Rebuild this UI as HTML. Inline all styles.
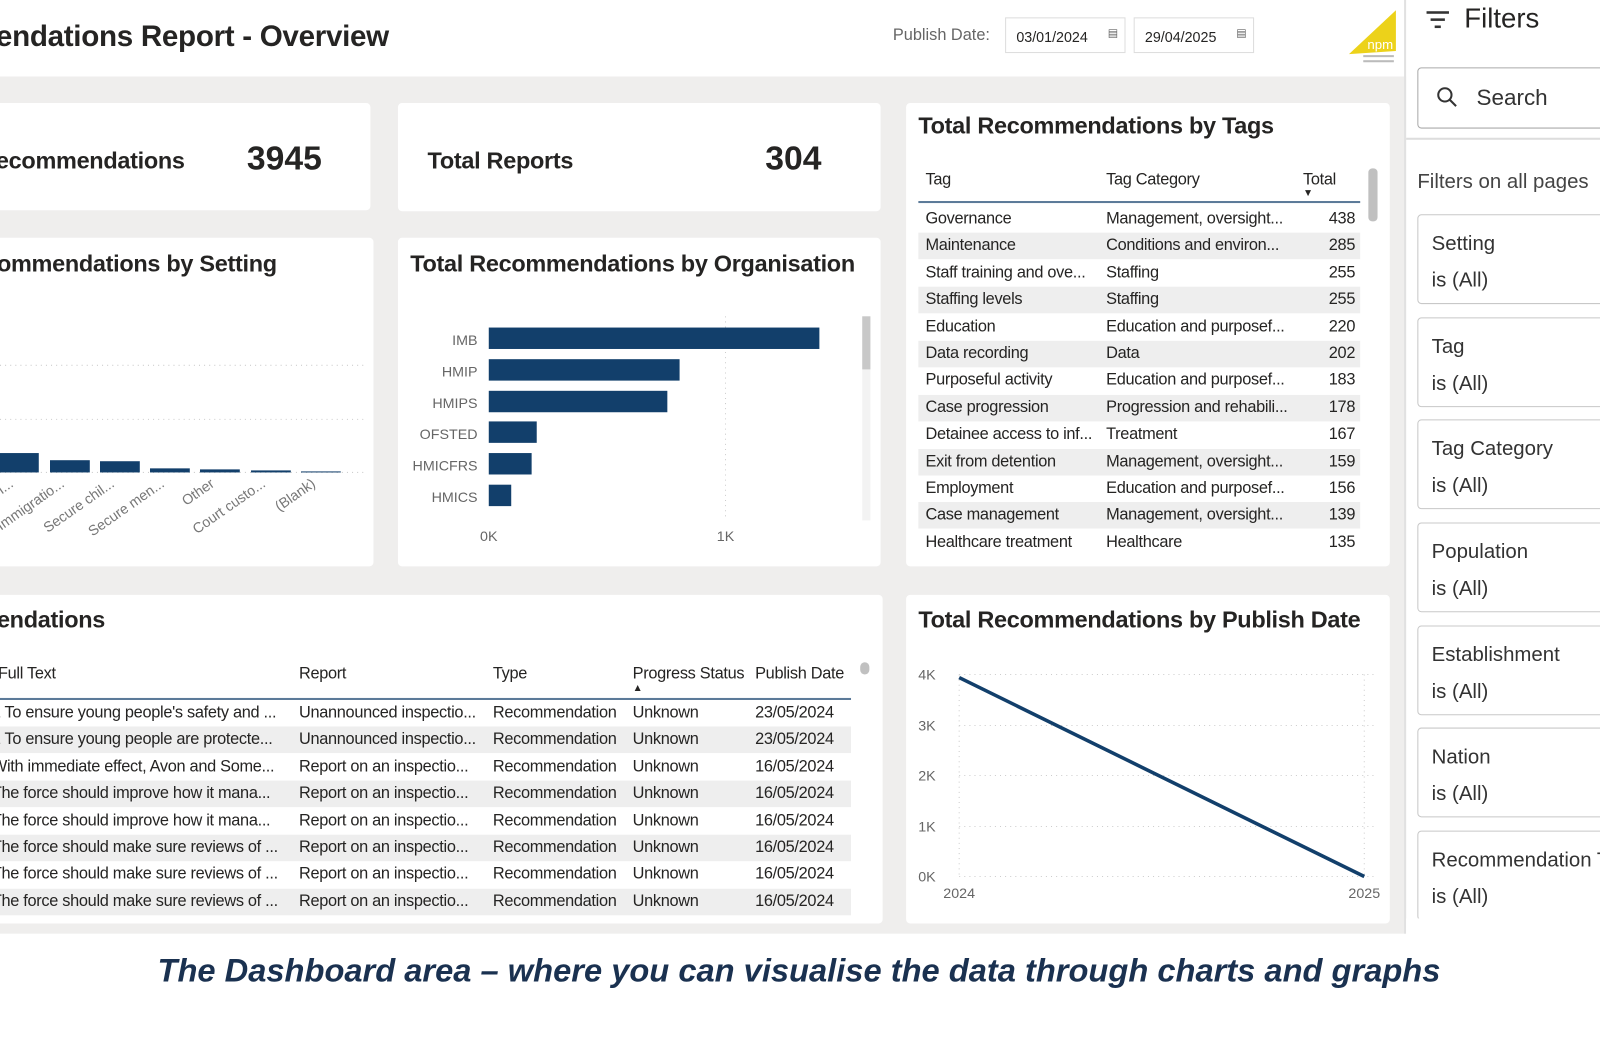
<!DOCTYPE html>
<html><head><meta charset="utf-8"><style>
*{margin:0;padding:0;box-sizing:border-box}
body{width:1600px;height:1036px;position:relative;overflow:hidden;background:#fff;font-family:"Liberation Sans",sans-serif;color:#252423}
#w{position:absolute;left:0;top:0;width:1568px;height:1016px;transform:scale(1.0204);transform-origin:0 0}
.a{position:absolute;white-space:nowrap}
.card{position:absolute;background:#fff;border-radius:4px}
.t{font-weight:bold;font-size:23px;color:#252423;letter-spacing:-0.3px}
.c{font-size:16px;letter-spacing:-0.3px}
.row{position:absolute;height:26px;font-size:16px;letter-spacing:-0.3px}
.g{background:#eeeeee}
.fc{position:absolute;left:1389px;width:230px;height:88px;border:1px solid #c8c8c8;border-radius:4px;background:#fff}
.fc div{position:absolute;left:13px;font-size:20px;color:#333}
</style></head><body><div id="w">
<div class="a" style="left:0;top:75px;width:1378px;height:840px;background:#efeeed"></div>
<div class="a t" style="left:-4px;top:20px;font-size:29px">endations Report - Overview</div>
<div class="a" style="left:875px;top:26px;font-size:16px;color:#666">Publish Date:</div>
<div class="a" style="left:985px;top:17px;width:118px;height:35px;border:1px solid #ddd;font-size:14px;padding:10px 0 0 10px">03/01/2024 <span style="position:absolute;right:6px;top:8px;font-size:11px;color:#666">▤</span></div>
<div class="a" style="left:1111px;top:17px;width:118px;height:35px;border:1px solid #ddd;font-size:14px;padding:10px 0 0 10px">29/04/2025 <span style="position:absolute;right:6px;top:8px;font-size:11px;color:#666">▤</span></div>
<svg class="a" style="left:1318px;top:8px" width="56" height="60"><polygon points="50,2 50,42 4,45" fill="#ecd21a"/><text x="22" y="40" font-size="13" fill="#fff" font-family="Liberation Sans">npm</text><rect x="18" y="46" width="30" height="2" fill="#bbb"/><rect x="18" y="51" width="30" height="2" fill="#bbb"/></svg>

<div class="card" style="left:-10px;top:101px;width:373px;height:105px"></div>
<div class="a t" style="left:-4px;top:144px;font-size:23px">ecommendations</div>
<div class="a" style="left:242px;top:136px;font-size:33px;font-weight:bold">3945</div>
<div class="card" style="left:390px;top:101px;width:473px;height:106px"></div>
<div class="a t" style="left:419px;top:144px">Total Reports</div>
<div class="a" style="left:750px;top:136px;font-size:33px;font-weight:bold">304</div>

<div class="card" style="left:-10px;top:233px;width:376px;height:322px"></div>
<div class="a t" style="left:-3px;top:245px">ommendations by Setting</div>
<svg class="a" style="left:0;top:340px" width="366" height="210">
<g stroke="#ccc" stroke-dasharray="1,4"><line x1="0" y1="18" x2="360" y2="18"/><line x1="0" y1="71" x2="360" y2="71"/><line x1="0" y1="123" x2="360" y2="123"/></g>
<g fill="#123f6b"><rect x="0" y="104" width="38" height="19"/><rect x="49" y="111" width="39" height="12"/><rect x="98" y="112" width="39" height="11"/><rect x="147" y="119" width="39" height="4"/><rect x="196" y="120" width="39" height="3"/><rect x="246" y="121" width="39" height="2"/><rect x="295" y="122" width="39" height="1"/></g>
<g font-size="14" fill="#777" font-family="Liberation Sans" text-anchor="end">
<text transform="translate(14,136) rotate(-35)">i...</text>
<text transform="translate(64,136) rotate(-35)">Immigratio...</text>
<text transform="translate(113,136) rotate(-35)">Secure chil...</text>
<text transform="translate(162,136) rotate(-35)">Secure men...</text>
<text transform="translate(211,136) rotate(-35)">Other</text>
<text transform="translate(261,136) rotate(-35)">Court custo...</text>
<text transform="translate(310,136) rotate(-35)">(Blank)</text>
</g></svg>

<div class="card" style="left:390px;top:233px;width:473px;height:322px"></div>
<div class="a t" style="left:402px;top:245px">Total Recommendations by Organisation</div>
<svg class="a" style="left:390px;top:300px" width="473" height="250">
<line x1="321" y1="10" x2="321" y2="210" stroke="#ccc" stroke-dasharray="1,4"/>
<g fill="#123f6b"><rect x="89" y="21" width="324" height="21"/><rect x="89" y="52" width="187" height="21"/><rect x="89" y="83" width="175" height="21"/><rect x="89" y="113" width="47" height="21"/><rect x="89" y="144" width="42" height="21"/><rect x="89" y="175" width="22" height="21"/></g>
<g font-size="14" fill="#666" font-family="Liberation Sans" text-anchor="end"><text x="78" y="38">IMB</text><text x="78" y="69">HMIP</text><text x="78" y="100">HMIPS</text><text x="78" y="130">OFSTED</text><text x="78" y="161">HMICFRS</text><text x="78" y="192">HMICS</text></g>
<g font-size="14" fill="#666" font-family="Liberation Sans" text-anchor="middle"><text x="89" y="230">0K</text><text x="321" y="230">1K</text></g>
<rect x="455" y="10" width="8" height="200" fill="#f3f3f3"/><rect x="455" y="10" width="8" height="52" fill="#c8c8c8"/>
</svg>

<div class="card" style="left:888px;top:101px;width:474px;height:454px"></div>
<div class="a t" style="left:900px;top:110px">Total Recommendations by Tags</div>
<div class="a c" style="left:907px;top:168px">Tag</div>
<div class="a c" style="left:1084px;top:168px">Tag Category</div>
<div class="a c" style="left:1277px;top:168px">Total</div>
<div class="a" style="left:1277px;top:184px;font-size:10px">▼</div>
<div class="a" style="left:900px;top:197px;width:433px;height:2px;background:#5b7a99"></div>
<div class="a" style="left:1341px;top:165px;width:9px;height:52px;border-radius:4px;background:#c0c0c0"></div>
<div id="tags"></div>

<div class="card" style="left:-10px;top:583px;width:875px;height:322px"></div>
<div class="a t" style="left:-3px;top:594px">endations</div>
<div class="a c" style="left:-2px;top:652px">Full Text</div>
<div class="a c" style="left:293px;top:652px">Report</div>
<div class="a c" style="left:483px;top:652px">Type</div>
<div class="a c" style="left:620px;top:652px">Progress Status</div>
<div class="a" style="left:620px;top:669px;font-size:10px">▲</div>
<div class="a c" style="left:740px;top:652px">Publish Date</div>
<div class="a" style="left:0;top:684px;width:834px;height:2px;background:#5b7a99"></div>
<div class="a" style="left:843px;top:649px;width:9px;height:12px;border-radius:5px;background:#c0c0c0"></div>
<div id="recs"></div>

<div class="card" style="left:888px;top:583px;width:474px;height:322px"></div>
<div class="a t" style="left:900px;top:594px">Total Recommendations by Publish Date</div>
<svg class="a" style="left:888px;top:640px" width="474" height="260">
<g stroke="#ccc" stroke-dasharray="1,4"><line x1="52" y1="21" x2="460" y2="21"/><line x1="52" y1="71" x2="460" y2="71"/><line x1="52" y1="120" x2="460" y2="120"/><line x1="52" y1="170" x2="460" y2="170"/><line x1="52" y1="219" x2="460" y2="219"/><line x1="52" y1="21" x2="52" y2="219"/><line x1="449" y1="21" x2="449" y2="219"/></g>
<line x1="52" y1="24" x2="449" y2="219" stroke="#123f6b" stroke-width="3.5"/>
<g font-size="14" fill="#666" font-family="Liberation Sans" text-anchor="end"><text x="29" y="26">4K</text><text x="29" y="76">3K</text><text x="29" y="125">2K</text><text x="29" y="175">1K</text><text x="29" y="224">0K</text></g>
<g font-size="14" fill="#666" font-family="Liberation Sans" text-anchor="middle"><text x="52" y="240">2024</text><text x="449" y="240">2025</text></g>
</svg>

<div class="a" style="left:1376px;top:0;width:2px;height:915px;background:#e1e1e1"></div>
<svg class="a" style="left:1398px;top:8px" width="24" height="22"><rect x="0" y="3" width="22" height="2.5" fill="#333"/><rect x="4" y="10" width="14" height="2.5" fill="#333"/><rect x="8" y="17" width="6" height="2.5" fill="#333"/></svg>
<div class="a" style="left:1435px;top:3px;font-size:27px;color:#252423">Filters</div>
<div class="a" style="left:1389px;top:66px;width:230px;height:60px;border:1px solid #aaa;border-radius:4px"></div>
<svg class="a" style="left:1408px;top:85px" width="22" height="22"><circle cx="8" cy="8" r="6.5" stroke="#333" stroke-width="2" fill="none"/><line x1="13" y1="13" x2="19" y2="19" stroke="#333" stroke-width="2"/></svg>
<div class="a" style="left:1447px;top:83px;font-size:22px;color:#333">Search</div>
<div class="a" style="left:1378px;top:135px;width:222px;height:2px;background:#ddd"></div>
<div class="a" style="left:1389px;top:167px;font-size:20px;color:#444">Filters on all pages</div>
<div class="fc" style="top:210px"><div style="top:17px">Setting</div><div style="top:53px">is (All)</div></div>
<div class="fc" style="top:311px"><div style="top:17px">Tag</div><div style="top:53px">is (All)</div></div>
<div class="fc" style="top:411px"><div style="top:17px">Tag Category</div><div style="top:53px">is (All)</div></div>
<div class="fc" style="top:512px"><div style="top:17px">Population</div><div style="top:53px">is (All)</div></div>
<div class="fc" style="top:613px"><div style="top:17px">Establishment</div><div style="top:53px">is (All)</div></div>
<div class="fc" style="top:713px"><div style="top:17px">Nation</div><div style="top:53px">is (All)</div></div>
<div class="fc" style="top:814px"><div style="top:17px">Recommendation T</div><div style="top:53px">is (All)</div></div>
<div class="a" style="left:1378px;top:900px;width:222px;height:16px;background:#fff"></div>

<div class="a" style="left:0;top:933px;width:1566px;text-align:center;font-size:32px;font-weight:bold;font-style:italic;color:#1a3150">The Dashboard area – where you can visualise the data through charts and graphs</div>
</div>
<script>
var tags=[["Governance","Management, oversight...","438"],["Maintenance","Conditions and environ...","285"],["Staff training and ove...","Staffing","255"],["Staffing levels","Staffing","255"],["Education","Education and purposef...","220"],["Data recording","Data","202"],["Purposeful activity","Education and purposef...","183"],["Case progression","Progression and rehabili...","178"],["Detainee access to inf...","Treatment","167"],["Exit from detention","Management, oversight...","159"],["Employment","Education and purposef...","156"],["Case management","Management, oversight...","139"],["Healthcare treatment","Healthcare","135"]];
var h="";tags.forEach(function(r,i){var y=202+i*26.4;h+='<div class="row'+(i%2?' g':'')+'" style="left:900px;top:'+y+'px;width:433px"><span class="a" style="left:7px;top:4px">'+r[0]+'</span><span class="a" style="left:184px;top:4px">'+r[1]+'</span><span class="a" style="right:5px;top:4px">'+r[2]+'</span></div>';});
document.getElementById("tags").innerHTML=h;
var recs=[["1 To ensure young people's safety and ...","Unannounced inspectio...","23/05/2024"],["2 To ensure young people are protecte...","Unannounced inspectio...","23/05/2024"],["With immediate effect, Avon and Some...","Report on an inspectio...","16/05/2024"],["The force should improve how it mana...","Report on an inspectio...","16/05/2024"],["The force should improve how it mana...","Report on an inspectio...","16/05/2024"],["The force should make sure reviews of ...","Report on an inspectio...","16/05/2024"],["The force should make sure reviews of ...","Report on an inspectio...","16/05/2024"],["The force should make sure reviews of ...","Report on an inspectio...","16/05/2024"]];
h="";recs.forEach(function(r,i){var y=686+i*26.4;h+='<div class="row'+(i%2?' g':'')+'" style="left:0;top:'+y+'px;width:834px"><span class="a" style="left:-8px;top:4px;width:290px;overflow:hidden;direction:rtl;text-align:left"><span style="direction:ltr;unicode-bidi:embed">'+r[0]+'</span></span><span class="a" style="left:293px;top:4px">'+r[1]+'</span><span class="a" style="left:483px;top:4px">Recommendation</span><span class="a" style="left:620px;top:4px">Unknown</span><span class="a" style="left:740px;top:4px">'+r[2]+'</span></div>';});
document.getElementById("recs").innerHTML=h;
</script>
</body></html>
